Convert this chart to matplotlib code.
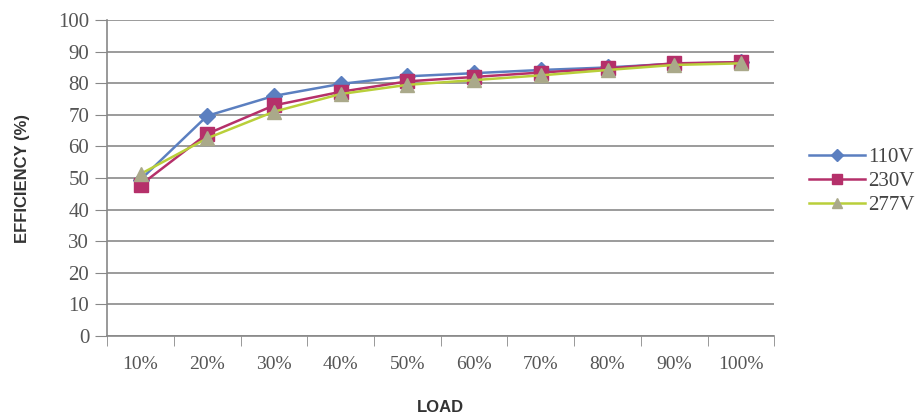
import numpy as np
import matplotlib.pyplot as plt
from matplotlib.ticker import FixedLocator

# data
loads = ['10%', '20%', '30%', '40%', '50%', '60%', '70%', '80%', '90%', '100%']
eff_110 = [49.5, 69.7, 76.0, 79.8, 82.2, 83.2, 84.2, 85.0, 86.2, 86.6]
eff_230 = [47.8, 64.0, 73.0, 77.3, 80.6, 82.0, 83.4, 84.7, 86.3, 86.7]
eff_277 = [51.3, 62.6, 71.0, 76.6, 79.5, 81.0, 82.5, 84.2, 85.8, 86.3]
y_ticks = list(range(0, 101, 10))

fig = plt.figure(figsize=(9.24, 4.18), dpi=100)
ax = fig.add_axes([0.116, 0.196, 0.722, 0.756])

x = np.arange(len(loads))
serif = 'Liberation Serif'
sans = 'Liberation Sans'

ax.plot(x, eff_277, '-', color='#b9cf3a', lw=1.8, marker='^', ms=10,
        mfc='#aaa98a', mec='#aaa98a', label='277V', zorder=3)
ax.plot(x, eff_230, '-', color='#b5306a', lw=1.8, marker='s', ms=10,
        mfc='#b5306a', mec='#b5306a', label='230V', zorder=2)
ax.plot(x, eff_110, '-', color='#5b7fc0', lw=1.8, marker='D', ms=8,
        mfc='#5b7fc0', mec='#5b7fc0', label='110V', zorder=1)

ax.set_xlim(-0.5, len(loads) - 0.5)
ax.set_ylim(0, 100)
ax.set_yticks(y_ticks)
ax.set_yticklabels([str(v) for v in y_ticks], family=serif, fontsize=15, color='#555555')
ax.set_xticks(x)
ax.set_xticklabels(loads, family=serif, fontsize=14, color='#555555')
ax.tick_params(axis='x', which='major', length=0, pad=14)
ax.xaxis.set_minor_locator(FixedLocator(np.arange(-0.5, len(loads), 1.0)))
ax.tick_params(axis='x', which='minor', length=7, color='#888888', direction='out')
ax.tick_params(axis='y', length=9, color='#888888', direction='out', pad=4)

ax.grid(axis='y', color='#8a8a8a', lw=1.2)
ax.set_axisbelow(True)
for s in ['top', 'right']:
    ax.spines[s].set_visible(False)
for s in ['left', 'bottom']:
    ax.spines[s].set_color('#888888')
    ax.spines[s].set_linewidth(1.2)

ax.set_ylabel('EFFICIENCY (%)', family=sans, fontsize=12, fontweight='bold',
              color='#333333', labelpad=20)
ax.set_xlabel('LOAD', family=sans, fontsize=12, fontweight='bold',
              color='#333333', labelpad=20)

handles, labels = ax.get_legend_handles_labels()
leg = ax.legend(handles[::-1], labels[::-1], loc='center left',
                bbox_to_anchor=(1.024, 0.49), frameon=False, handlelength=2.7,
                prop={'family': serif, 'size': 15}, labelspacing=0.22,
                handletextpad=0.15, labelcolor='#444444', markerscale=0.75)

fig.savefig('out.png', dpi=100)
